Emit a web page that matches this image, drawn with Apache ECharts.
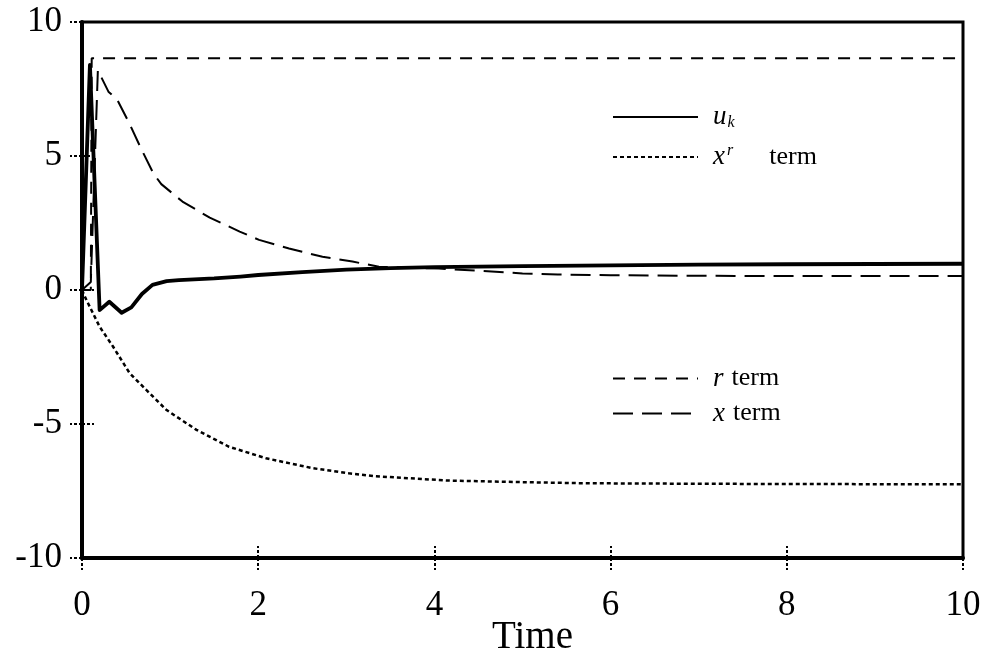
<!DOCTYPE html>
<html>
<head>
<meta charset="utf-8">
<script src="https://cdn.jsdelivr.net/npm/echarts@6/dist/echarts.min.js"></script>
<style>
  html, body { margin: 0; padding: 0; background: #fff; }
  #chart { width: 991px; height: 660px; }
</style>
</head>
<body>
<div id="chart"></div>
<script>
// Control signal u_k and its three components over time
const tU   = [0, 0.09, 0.2, 0.31, 0.45, 0.56, 0.68, 0.8, 0.96, 1.1, 1.5, 1.8, 2.0, 2.5, 3.0, 3.5, 4.0, 5.0, 6.0, 7.0, 8.0, 10.0];
const uVal = [0, 8.4, -0.75, -0.44, -0.85, -0.65, -0.15, 0.19, 0.33, 0.37, 0.43, 0.5, 0.56, 0.67, 0.76, 0.82, 0.85, 0.89, 0.92, 0.95, 0.96, 0.98];

const tXr   = [0, 0.05, 0.2, 0.35, 0.54, 0.73, 0.96, 1.3, 1.67, 2.09, 2.62, 3.03, 3.33, 4.16, 5.0, 5.67, 7.0, 8.08, 10.0];
const xrVal = [0, -0.37, -1.37, -2.1, -3.1, -3.73, -4.48, -5.22, -5.85, -6.28, -6.65, -6.84, -6.95, -7.11, -7.17, -7.21, -7.23, -7.24, -7.25];

const tR   = [0, 0.1, 0.11, 10.0];
const rVal = [0, 0, 8.65, 8.65];

const tX   = [0, 0.1, 0.18, 0.3, 0.4, 0.54, 0.66, 0.81, 0.9, 1.14, 1.45, 1.79, 2.01, 2.35, 2.73, 3.07, 3.37, 4.05, 4.5, 5.0, 5.4, 6.0, 7.0, 8.0, 10.0];
const xVal = [0, 0.3, 8.2, 7.4, 7.1, 6.2, 5.35, 4.35, 3.95, 3.3, 2.7, 2.18, 1.87, 1.55, 1.24, 1.06, 0.87, 0.8, 0.72, 0.62, 0.58, 0.55, 0.53, 0.52, 0.52];

const xTicks = [0, 2, 4, 6, 8, 10];
const yTicks = [-10, -5, 0, 5, 10];

const zip = (ts, vs) => ts.map((t, i) => [t, vs[i]]);

const serif = 'Liberation Serif';
const INK = '#000';

const mathFont = { fontFamily: serif, fontStyle: 'italic', color: INK };
const legendRich = {
  g:   { width: 10 },
  it:  Object.assign({ fontSize: 27, lineHeight: 30 }, mathFont),
  sub: Object.assign({ fontSize: 16, lineHeight: 30, padding: [12, 0, 0, 1] }, mathFont),
  sup: Object.assign({ fontSize: 16, lineHeight: 30, padding: [0, 0, 12, 2] }, mathFont),
  rmA: { fontFamily: serif, fontSize: 26, color: INK, lineHeight: 30, padding: [0, 0, 0, 36] },
  rmB: { fontFamily: serif, fontSize: 26, color: INK, lineHeight: 30, padding: [0, 0, 0, 8] }
};
const legendText = {
  'u_k': '{g| }{it|u}{sub|k}',
  'x^r term': '{g| }{it|x}{sup|r}{rmA|term}',
  'r term': '{g| }{it|r}{rmB|term}',
  'x term': '{g| }{it|x}{rmB|term}'
};

const tickStyle = { color: INK, width: 2, type: [3, 2] };
const axisBase = {
  type: 'value',
  splitLine: { show: false },
  axisLine: { show: true, onZero: false, lineStyle: { color: INK, width: 4 } },
  axisTick: { show: true, length: 12, lineStyle: tickStyle }
};
// companion axes carry the inner half of each tick mark
const innerTicks = {
  axisLine: { show: false, onZero: false },
  axisTick: { show: true, inside: true, length: 12, lineStyle: tickStyle },
  axisLabel: { show: false }
};

const chart = echarts.init(document.getElementById('chart'), null, { renderer: 'canvas' });
chart.setOption({
  animation: false,
  backgroundColor: '#fff',
  grid: {
    left: 82, right: 28, top: 22, bottom: 102,
    outerBoundsMode: 'none', containLabel: false,
    show: true, borderColor: INK, borderWidth: 3, backgroundColor: 'transparent'
  },
  legend: [
    {
      data: ['u_k', 'x^r term'],
      orient: 'vertical', left: 607, top: 98,
      itemWidth: 85, itemHeight: 30, itemGap: 12,
      itemStyle: { color: 'rgba(0,0,0,0)', borderColor: 'rgba(0,0,0,0)', borderWidth: 0 },
      formatter: n => legendText[n],
      textStyle: { rich: legendRich }
    },
    {
      data: ['r term', 'x term'],
      orient: 'vertical', left: 607, top: 360,
      itemWidth: 85, itemHeight: 30, itemGap: 8,
      itemStyle: { color: 'rgba(0,0,0,0)', borderColor: 'rgba(0,0,0,0)', borderWidth: 0 },
      formatter: n => legendText[n],
      textStyle: { rich: legendRich }
    }
  ],
  xAxis: [
    Object.assign({}, axisBase, {
      min: 0, max: 10, interval: 2, position: 'bottom',
      name: 'Time', nameLocation: 'middle', nameGap: 60, nameMoveOverlap: false,
      nameTextStyle: { fontFamily: serif, fontSize: 39, color: INK, padding: [0, 0, 0, 20] },
      axisLabel: { margin: 30, fontFamily: serif, fontSize: 35, color: INK,
        formatter: v => xTicks.includes(v) ? String(v) : '' }
    }),
    Object.assign({}, axisBase, innerTicks, { min: 0, max: 10, interval: 2, position: 'bottom' })
  ],
  yAxis: [
    Object.assign({}, axisBase, {
      min: -10, max: 10, interval: 5, position: 'left',
      axisLabel: { margin: 20, fontFamily: serif, fontSize: 35, color: INK,
        formatter: v => yTicks.includes(v) ? String(v) : '' }
    }),
    Object.assign({}, axisBase, innerTicks, { min: -10, max: 10, interval: 5, position: 'left' })
  ],
  series: [
    {
      name: 'u_k', type: 'line', symbol: 'none', z: 5,
      data: zip(tU, uVal),
      lineStyle: { color: INK, width: 3.8, join: 'round' }
    },
    {
      name: 'x^r term', type: 'line', symbol: 'none',
      data: zip(tXr, xrVal),
      lineStyle: { color: INK, width: 2.5, type: [4, 3] }
    },
    {
      name: 'r term', type: 'line', symbol: 'none',
      data: zip(tR, rVal),
      lineStyle: { color: INK, width: 2, type: [12, 9] }
    },
    {
      name: 'x term', type: 'line', symbol: 'none',
      data: zip(tX, xVal),
      lineStyle: { color: INK, width: 2, type: [20, 9] }
    }
  ]
});
</script>
</body>
</html>
